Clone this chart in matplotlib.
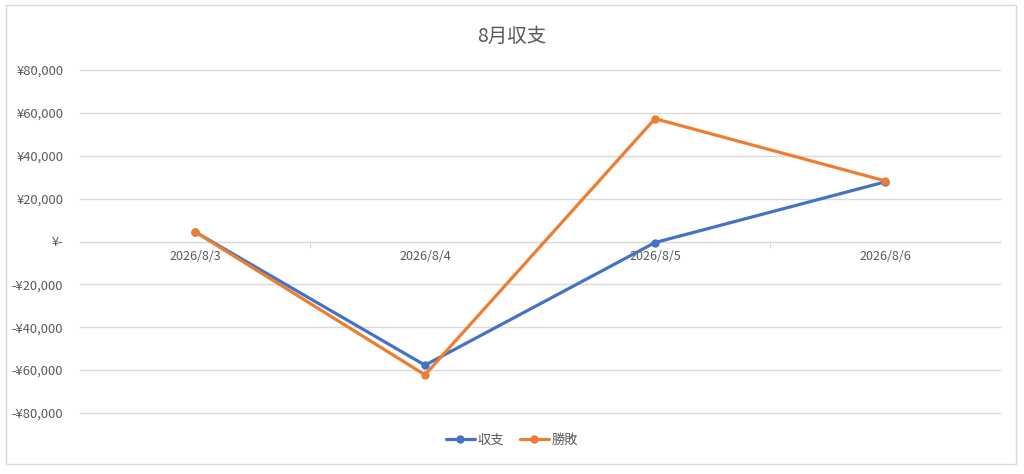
import matplotlib
matplotlib.use("Agg")
import matplotlib.pyplot as plt
from matplotlib.patches import Rectangle
from matplotlib.ticker import FuncFormatter, FixedLocator, NullFormatter

plt.rcParams['font.family'] = ['Noto Sans CJK JP', 'DejaVu Sans']

# data
dates = ['2026/8/3', '2026/8/4', '2026/8/5', '2026/8/6']
shushi = [4500, -57700, -500, 27800]
shohai = [4500, -62200, 57300, 28300]
yticks = [-80000, -60000, -40000, -20000, 0, 20000, 40000, 60000, 80000]

BLUE = '#4472C4'
ORANGE = '#ED7D31'
GRID = '#D9D9D9'
TXT = '#595959'


def yen(v, pos=None):
    if v == 0:
        return '¥-'
    if v < 0:
        return f'-¥{abs(v):,.0f}'
    return f'¥{v:,.0f}'


fig = plt.figure(figsize=(10.24, 4.74), dpi=100)
ax = fig.add_axes([80 / 1024, 1 - 413 / 474, 920 / 1024, 343 / 474])

x = list(range(len(dates)))
ax.plot(x, shushi, color=BLUE, lw=2.3, marker='o', ms=5, label='収支',
        solid_capstyle='round', zorder=3)
ax.plot(x, shohai, color=ORANGE, lw=2.3, marker='o', ms=5, label='勝敗',
        solid_capstyle='round', zorder=4)

ax.set_xlim(-0.5, len(dates) - 0.5)
ax.set_ylim(-80000, 80000)
ax.set_yticks(yticks)
ax.yaxis.set_major_formatter(FuncFormatter(yen))
ax.grid(axis='y', color=GRID, lw=1)
for gl in ax.get_ygridlines():
    gl.set_clip_on(False)
ax.set_axisbelow(True)

for s in ['top', 'right', 'left']:
    ax.spines[s].set_visible(False)
ax.spines['bottom'].set_position(('data', 0))
ax.spines['bottom'].set_color(GRID)

# category labels at centers, tick marks between categories
ax.xaxis.set_major_locator(FixedLocator([0.5, 1.5, 2.5]))
ax.xaxis.set_major_formatter(NullFormatter())
ax.xaxis.set_minor_locator(FixedLocator(x))
ax.set_xticklabels(dates, minor=True)
ax.tick_params(axis='x', which='major', length=4, color=GRID)
ax.tick_params(axis='x', which='minor', length=0, pad=6, labelsize=9, labelcolor=TXT)
ax.tick_params(axis='y', length=0, pad=12, labelsize=9.3, labelcolor=TXT)

fig.text(0.5, 1 - 36 / 474, '8月収支', ha='center', va='center',
         fontsize=14, color=TXT)

fig.legend(loc='center', bbox_to_anchor=(0.5, 1 - 440 / 474), ncol=2,
           frameon=False, fontsize=9.5, labelcolor=TXT, handlelength=2.2,
           handletextpad=0.2, columnspacing=1.2)

fig.patches.append(Rectangle((6 / 1024, 1 - 464 / 474), 1010 / 1024, 459 / 474,
                             transform=fig.transFigure, fill=False,
                             edgecolor=GRID, lw=1))

fig.savefig('out.png', dpi=100)
